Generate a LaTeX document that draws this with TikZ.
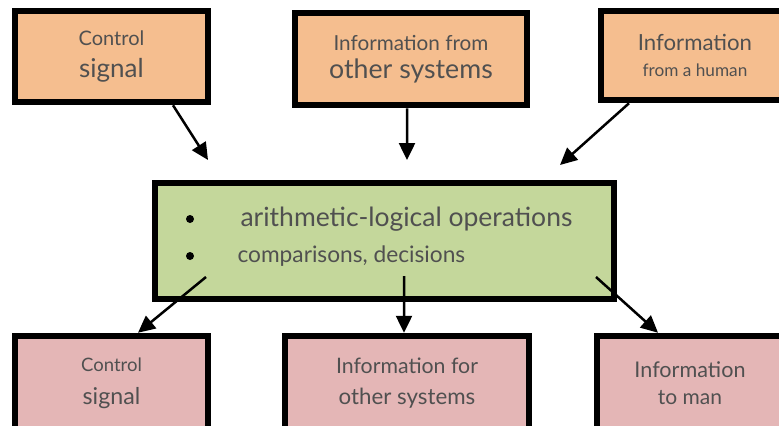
\documentclass[tikz,border=0pt]{standalone}
\usepackage{fontspec}
\setmainfont{Lato}
\usetikzlibrary{arrows.meta}

\definecolor{infill}{HTML}{F5BE8F}
\definecolor{procfill}{HTML}{C4D79B}
\definecolor{outfill}{HTML}{E4B6B6}
\definecolor{txtgray}{HTML}{505050}

% font size shortcut
\newcommand{\fsz}[1]{\fontsize{#1bp}{#1bp}\selectfont}

\tikzset{
  box/.style={draw=black, line width=6.5bp, inner sep=0pt, align=center, text=txtgray},
  inbox/.style={box, fill=infill},
  procbox/.style={box, fill=procfill},
  outbox/.style={box, fill=outfill},
  link/.style={line width=2.5bp, -{Triangle[length=17bp,width=16bp]}},
}

\begin{document}
\begin{tikzpicture}[x=1bp, y=-1bp]
  \clip (0,0) rectangle (779,425);

  % inputs
  \node[inbox, minimum width=193bp, minimum height=91bp] (ctlin) at (111.5,56.5)
    {\fsz{20}Control\\[11bp]\fsz{26}signal};
  \node[inbox, minimum width=232bp, minimum height=92bp] (sysin) at (411,59)
    {\fsz{20.7}Information from\\[7bp]\fsz{26.7}other systems};
  \node[inbox, minimum width=188bp, minimum height=89bp] (humin) at (695,55.5)
    {\fsz{22.2}Information\\[13bp]\fsz{17.2}from a human};

  % processing
  \node[procbox, minimum width=459bp, minimum height=116bp] (alu) at (384.5,241) {};
  \node[text=txtgray, anchor=west] (op1) at (237,219) {\fsz{26.5}arithmetic-logical operations};
  \node[text=txtgray, anchor=west] (op2) at (234,256) {\fsz{22.7}comparisons, decisions};
  \fill (190,219) circle (4bp);
  \fill (190,256) circle (4bp);

  % outputs
  \node[outbox, minimum width=193bp, minimum height=94bp] (ctlout) at (111.5,383)
    {\fsz{18.5}Control\\[15bp]\fsz{23.2}signal};
  \node[outbox, minimum width=244bp, minimum height=94bp] (sysout) at (407,383)
    {\fsz{21.3}Information for\\[13bp]\fsz{22.3}other systems};
  \node[outbox, minimum width=186bp, minimum height=94bp] (humout) at (690,383)
    {\fsz{21.6}Information\\[12bp]\fsz{21}to man};

  % free ends of the incoming arrows
  \coordinate (ctltip) at (208,160);
  \coordinate (systip) at (407,160);
  \coordinate (humtip) at (560,165);

  \draw[link] ([xshift=61.5bp]ctlin.south) -- (ctltip);
  \draw[link] ([xshift=-4bp]sysin.south) -- (systip);
  \draw[link] ([xshift=-66bp]humin.south) -- (humtip);

  \draw[link] ([shift={(-178.5,36)}]alu.center) -- ([xshift=26.5bp]ctlout.north);
  \draw[link] ([shift={(19.5,35)}]alu.center) -- ([xshift=-3bp]sysout.north);
  \draw[link] ([shift={(211.5,36)}]alu.center) -- ([xshift=-32bp]humout.north);
\end{tikzpicture}
\end{document}
